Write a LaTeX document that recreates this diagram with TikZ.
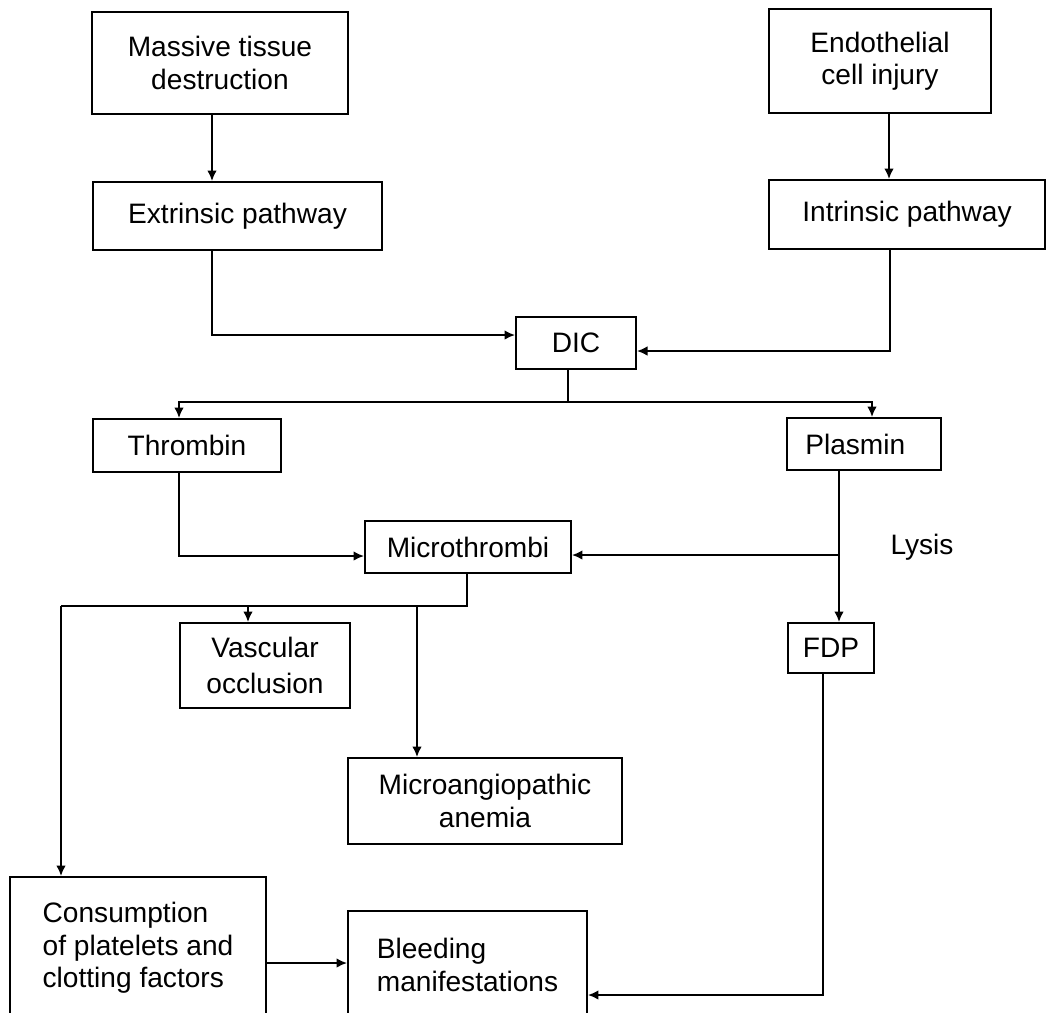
\documentclass[tikz,border=0pt]{standalone}
\usepackage{fontspec}
\setmainfont{Liberation Sans}
\usetikzlibrary{arrows.meta}
\begin{document}
\begin{tikzpicture}[x=0.02cm,y=-0.02cm,
  box/.style={draw,line width=1.1pt,inner sep=0pt,align=center,
    font=\fontsize{16}{18.5}\selectfont},
  lbl/.style={inner sep=0pt,font=\fontsize{16}{18.5}\selectfont},
  arr/.style={line width=1.1pt,-{Latex[length=6pt,width=5.5pt]}},
  ln/.style={line width=1.1pt}]
\clip (0,0) rectangle (1048,1012);
\fill[white] (0,0) rectangle (1048,1012);
% boxes
\node[box,minimum width=5.12cm,minimum height=2.04cm] (mass) at (220,63) {Massive tissue\\destruction};
\node[box,minimum width=4.44cm,minimum height=2.08cm] (endo) at (880,61) {Endothelial\\cell injury};
\node[box,minimum width=5.78cm,minimum height=1.36cm] (extr) at (237.5,216) {Extrinsic pathway};
\node[box,minimum width=5.52cm,minimum height=1.38cm] (intr) at (907,214.5) {Intrinsic pathway};
\node[box,minimum width=2.4cm,minimum height=1.04cm] (dic) at (576,343) {DIC};
\node[box,minimum width=3.76cm,minimum height=1.06cm] (thr) at (187,445.5) {Thrombin};
\node[box,minimum width=3.08cm,minimum height=1.04cm] (pla) at (864,444) {Plasmin\hspace{0.35cm}};
\node[box,minimum width=4.12cm,minimum height=1.04cm] (mic) at (468,547) {Microthrombi};
\node[lbl] (lys) at (922,547) {Lysis};
\node[box,font=\fontsize{16}{20.5}\selectfont,minimum width=3.4cm,minimum height=1.7cm] (vas) at (265,665.5) {Vascular\\occlusion};
\node[box,minimum width=1.72cm,minimum height=1.0cm] (fdp) at (831,648) {FDP};
\node[box,minimum width=5.48cm,minimum height=1.72cm] (ang) at (485,801) {Microangiopathic\\anemia};
\node[box,align=left,minimum width=5.12cm,minimum height=2.84cm] (con) at (138,948) {Consumption\\of platelets and\\clotting factors};
\node[box,align=left,minimum width=4.78cm,minimum height=2.16cm] (bld) at (467.5,965) {Bleeding\\manifestations};
% junctions
\coordinate (jd) at (568,402);
\coordinate (jp) at (839,555);
\coordinate (jm) at (467,606);
% connectors
\draw[arr] (212,0 |- mass.south) -- (212,0 |- extr.north);
\draw[arr] (889,0 |- endo.south) -- (889,0 |- intr.north);
\draw[arr] (212,0 |- extr.south) |- (dic.west |- 0,335);
\draw[arr] (890,0 |- intr.south) |- (dic.east |- 0,351);
\draw[ln] (dic.south -| jd) -- (jd);
\draw[arr] (jd) -| (179,0 |- thr.north);
\draw[arr] (jd) -| (872,0 |- pla.north);
\draw[arr] (179,0 |- thr.south) |- (mic.west |- 0,556);
\draw[arr] (pla.south -| jp) -- (fdp.north -| jp);
\draw[arr] (jp) -- (mic.east |- jp);
\draw[ln] (mic.south -| jm) -- (jm) -- (61,0 |- jm);
\draw[arr] (61,0 |- jm) -- (61,0 |- con.north);
\draw[arr] (248,0 |- jm) -- (248,0 |- vas.north);
\draw[arr] (417,0 |- jm) -- (417,0 |- ang.north);
\draw[arr] (con.east |- 0,963) -- (bld.west |- 0,963);
\draw[arr] (823,0 |- fdp.south) |- (bld.east |- 0,995);
\end{tikzpicture}
\end{document}
